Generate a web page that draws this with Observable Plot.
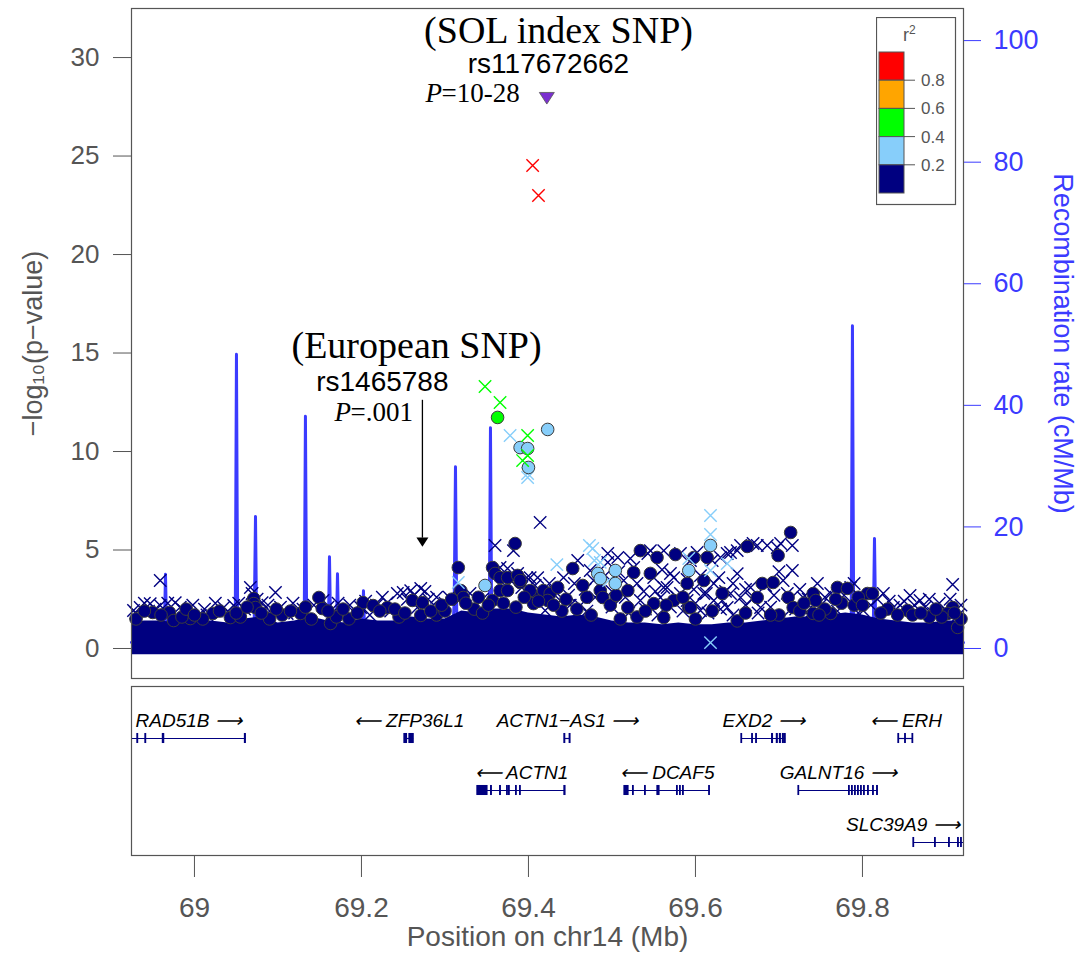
<!DOCTYPE html>
<html><head><meta charset="utf-8">
<script src="https://cdn.jsdelivr.net/npm/d3@7"></script>
<script src="https://cdn.jsdelivr.net/npm/@observablehq/plot@0.6"></script>
<style>
body{margin:0;background:#fff;}
#wrap{position:relative;width:1079px;height:953px;font-family:"Liberation Sans",Arial,sans-serif;}
#wrap svg{display:block;}
</style></head><body><div id="wrap"></div>
<script>
// ---------------- DATA ----------------
// r2 classes (legend)
const ldBreaks = [0.2, 0.4, 0.6, 0.8];
const ldColors = ["#000080", "#87CEFA", "#00FF00", "#FFA500", "#FF0000"];

// SNPs: [position (Mb), -log10(p)]
const navyCircles = [[68.950,1.83],[68.970,1.83],[68.975,1.42],[68.995,1.52],[69.022,1.78],[69.043,1.57],[69.071,2.54],[69.071,2.28],[69.073,2.08],[69.127,1.78],[69.149,2.59],[69.153,2.03],[69.163,1.27],[69.202,2.33],[69.214,2.18],[69.231,2.08],[69.261,2.44],[69.273,2.33],[69.271,1.68],[69.316,4.11],[69.319,2.94],[69.322,2.59],[69.357,2.44],[69.357,4.11],[69.360,3.81],[69.366,3.60],[69.375,3.60],[69.384,5.33],[69.387,3.71],[69.390,3.35],[69.366,2.94],[69.375,2.94],[69.405,2.69],[69.406,2.28],[69.418,2.94],[69.426,2.79],[69.435,3.10],[69.453,4.06],[69.465,3.20],[69.486,2.94],[69.519,2.94],[69.526,3.86],[69.534,4.97],[69.546,3.81],[69.554,4.62],[69.576,4.77],[69.598,4.62],[69.590,3.30],[69.610,3.45],[69.614,4.62],[69.662,5.18],[69.680,3.30],[69.693,3.35],[69.699,4.72],[69.714,5.89],[69.711,2.59],[69.717,2.08],[69.592,2.08],[69.562,1.57],[69.674,2.59],[69.741,2.79],[69.744,2.44],[69.770,3.10],[69.782,3.05],[69.806,2.79],[69.812,2.79],[69.762,1.78],[69.741,1.78],[69.854,1.93],[69.908,2.08],[69.902,1.78],[69.914,1.07],[69.550,2.28],[69.519,2.08],[69.489,2.59],[69.423,2.44],[69.390,3.45],[69.402,2.94],[69.574,2.44],[69.594,2.08],
  [68.930,1.5],[68.985,1.6],[69.010,1.5],[69.055,1.6],[69.090,1.5],[69.105,1.7],[69.140,1.5],[69.170,1.6],[69.185,1.5],[69.245,1.6],[69.290,1.7],[69.300,1.9],[69.335,2.0],[69.345,1.8],[69.440,1.9],[69.475,1.7],[69.510,1.5],[69.530,1.6],[69.600,1.5],[69.650,1.4],[69.700,1.7],[69.725,1.9],[69.755,2.0],[69.775,2.3],[69.790,2.2],[69.830,2.0],[69.860,1.7],[69.880,1.6],[69.895,1.6],[69.918,1.5],
  [68.940,1.9],[68.960,1.7],[68.990,2.0],[69.000,1.7],[69.030,1.9],[69.050,1.8],[69.063,2.1],[69.080,1.8],[69.098,2.0],[69.115,1.9],[69.133,2.1],[69.160,1.9],[69.178,2.0],[69.195,1.8],[69.222,1.9],[69.240,2.0],[69.252,1.8],[69.283,1.9],[69.296,2.2],[69.308,2.5],[69.325,2.3],[69.340,2.6],[69.352,2.2],[69.370,2.3],[69.385,2.1],[69.395,2.6],[69.412,2.4],[69.430,2.2],[69.445,2.5],[69.458,2.0],[69.470,2.6],[69.498,2.2],[69.505,2.7],[69.540,1.9],[69.565,2.2],[69.585,2.6],[69.620,1.9],[69.632,2.8],[69.660,1.8],[69.690,1.7],[69.730,2.3],[69.748,1.7],[69.768,2.5],[69.795,2.6],[69.800,2.2],[69.822,1.8],[69.842,1.7],[69.870,1.8],[69.888,2.0],[69.910,1.8]];
const navyCrosses = [[68.959,3.45],[68.927,1.93],[68.935,2.08],[68.947,2.28],[68.959,2.18],[68.977,2.33],[68.987,1.93],[69.007,1.68],[69.035,2.08],[69.047,2.18],[69.067,3.10],[69.069,2.79],[69.081,2.33],[69.097,2.84],[69.111,1.78],[69.154,2.44],[69.178,1.83],[69.199,2.08],[69.231,2.33],[69.250,2.84],[69.259,2.94],[69.271,3.05],[69.283,2.08],[69.267,2.08],[69.243,2.79],[69.360,5.23],[69.382,4.97],[69.414,6.40],[69.366,4.11],[69.375,4.06],[69.387,3.81],[69.402,3.60],
  [69.495,4.82],[69.507,4.62],[69.522,4.57],[69.543,4.82],[69.562,4.97],[69.582,4.82],[69.594,4.47],[69.630,4.62],[69.642,4.87],[69.654,5.23],[69.669,5.33],[69.686,5.23],[69.702,5.33],[69.716,5.23],[69.546,4.97],[69.602,4.87],[69.620,4.47],[69.638,4.82],[69.650,4.97],[69.674,5.23],[69.698,5.13],
  [69.716,3.96],[69.705,3.45],[69.908,3.25],[69.825,2.79],[69.857,2.69],[69.869,2.44],[69.837,2.08],[69.885,1.78],[69.786,3.10],[69.746,3.30],[69.762,2.79],[69.645,3.30],[69.666,3.10],[69.622,3.30],[69.570,3.81],[69.562,3.10],[69.582,2.79],[69.610,2.79],[69.632,2.44],[69.654,2.59],[69.678,2.08],[69.729,2.59],[69.738,2.08],[69.801,1.93],[69.495,4.37],[69.526,4.11],[69.514,3.45],[69.550,3.60],[69.566,3.10],[69.574,3.60],[69.558,2.59],[69.590,2.44],[69.622,2.44],[69.642,2.79],[69.638,2.08],[69.459,4.47],[69.474,3.96],[69.478,3.45],[69.442,3.60],[69.411,3.60],[69.492,3.71],[69.438,2.44],[69.420,1.93],[69.462,2.18],[69.534,2.44],[69.606,1.93],
  [69.450,2.2],[69.470,1.9],[69.500,2.1],[69.520,1.8],[69.540,2.0],[69.555,1.7],[69.570,2.1],[69.585,1.9],[69.600,2.3],[69.615,1.8],[69.630,2.0],[69.645,1.7],[69.660,2.2],[69.675,1.8],[69.690,2.1],[69.705,1.6],[69.720,2.0],[69.735,1.7],[69.750,2.2],[69.770,1.9],[69.795,1.8],[69.810,2.2],[69.845,2.2],[69.875,2.1],[69.900,1.9],[69.915,1.7],[68.930,1.8],[68.945,1.9],[68.990,1.8],[69.015,1.7],[69.060,2.0],[69.090,1.9],[69.120,1.8],[69.165,1.8],[69.190,1.9],[69.210,1.7],[69.235,1.9],[69.280,2.5],[69.290,2.6],[69.300,2.3],
  [68.940,2.3],[68.953,2.0],[68.968,2.3],[68.983,2.1],[68.998,2.2],[69.012,2.0],[69.025,2.3],[69.040,1.9],[69.053,2.3],[69.075,2.5],[69.088,2.2],[69.103,2.1],[69.118,2.3],[69.130,2.0],[69.143,2.2],[69.160,2.1],[69.172,2.3],[69.186,2.2],[69.205,2.4],[69.218,2.2],[69.225,2.6],[69.255,2.5],[69.263,2.7],[69.276,2.9],[69.305,2.6],[69.318,2.5],[69.330,2.8],[69.345,2.5],[69.372,3.2],[69.380,3.4],[69.392,3.1],[69.398,3.6],[69.408,3.2],[69.425,3.3],[69.432,2.9],[69.448,2.7],[69.455,3.3],[69.468,3.0],[69.480,2.6],[69.486,3.3],[69.500,2.9],[69.508,3.9],[69.516,2.6],[69.530,3.3],[69.538,2.9],[69.552,2.9],[69.560,4.0],[69.578,2.6],[69.590,3.5],[69.598,3.0],[69.606,3.7],[69.613,2.8],[69.628,3.6],[69.636,2.9],[69.650,3.8],[69.660,3.0],[69.668,2.5],[69.684,3.2],[69.694,2.7],[69.700,3.9],[69.710,2.8],[69.725,3.0],[69.735,2.5],[69.755,2.6],[69.778,2.7],[69.790,3.3],[69.818,2.5],[69.832,2.4],[69.850,2.4],[69.862,2.2],[69.880,2.5],[69.892,2.3],[69.905,2.5],[69.918,2.2]];
const lightBlueCrosses = [[69.378,10.81],[69.399,8.68],[69.399,8.88],[69.434,4.26],[69.473,5.23],[69.477,5.08],[69.479,4.47],[69.618,6.75],[69.618,5.79],[69.618,0.30],[69.316,3.35],[69.592,4.57],[69.618,3.96],[69.638,4.31],[69.486,4.37],[69.496,3.45]];
const lightBlueCircles = [[69.423,11.12],[69.390,10.20],[69.399,10.15],[69.400,9.19],[69.348,3.20],[69.483,3.81],[69.486,3.55],[69.504,3.96],[69.504,3.30],[69.592,3.96],[69.618,5.23]];
const greenCrosses = [[69.348,13.30],[69.366,12.49],[69.399,10.81],[69.393,9.54],[69.399,9.80]];
const greenCircles = [[69.363,11.73]];
const redCrosses = [[69.405,24.52],[69.412,23.00]];
const indexSnp = [[69.422,28.0]];

// dense low-significance mass: position and upper edge (-log10 p)
const floorPos = [68.9246,68.94,68.96,68.98,69.00,69.02,69.04,69.06,69.08,69.10,69.12,69.14,69.16,69.18,69.20,69.22,69.24,69.26,69.28,69.30,69.32,69.34,69.36,69.38,69.40,69.42,69.44,69.46,69.48,69.50,69.52,69.54,69.56,69.58,69.60,69.62,69.64,69.66,69.68,69.70,69.72,69.74,69.76,69.78,69.80,69.82,69.84,69.86,69.88,69.90,69.921];
const floorTop = [1.3,1.4,1.4,1.3,1.4,1.4,1.3,1.5,1.6,1.3,1.4,1.6,1.4,1.3,1.5,1.4,1.4,1.6,1.5,1.5,1.9,1.8,2.0,2.0,1.8,1.7,1.6,1.7,1.6,1.4,1.3,1.3,1.2,1.3,1.2,1.2,1.3,1.3,1.4,1.5,1.6,1.6,1.7,1.8,1.7,1.5,1.4,1.3,1.3,1.4,1.4];

// recombination rate (cM/Mb)
const recPos = [68.9246,68.940,68.955,68.9638,68.9653,68.9668,68.990,69.020,69.0488,69.0503,69.0518,69.070,69.0716,69.0731,69.0746,69.100,69.1314,69.1329,69.1344,69.150,69.1602,69.1617,69.1632,69.1698,69.1713,69.1728,69.2009,69.2024,69.2039,69.250,69.300,69.3096,69.3111,69.3126,69.3141,69.330,69.3530,69.3545,69.3560,69.400,69.500,69.600,69.700,69.7865,69.7880,69.7895,69.8129,69.8144,69.8159,69.850,69.921];
const recRate = [1.0,2.0,1.5,2.0,12.2,2.0,1.0,2.0,2.5,48.4,3.0,2.0,5.0,21.7,2.0,1.5,3.0,38.2,3.0,2.0,2.0,15.1,2.0,2.0,12.3,2.0,2.0,9.5,2.0,1.0,2.0,3.0,8.0,29.9,6.0,3.0,3.0,36.3,3.0,2.0,1.5,2.0,1.5,4.0,53.1,4.0,3.0,18.1,3.0,1.0,1.0];

// axis ticks
const pTicks = [0,5,10,15,20,25,30];
const recTicks = [0,20,40,60,80,100];
const posTicks = [69,69.2,69.4,69.6,69.8];

// genes
const geneNames  = ["RAD51B","ZFP36L1","ACTN1\u2212AS1","EXD2","ERH","ACTN1","DCAF5","GALNT16","SLC39A9"];
const geneStart  = [68.9200,69.2515,69.4431,69.6551,69.8431,69.3389,69.5150,69.7234,69.8611];
const geneEnd    = [69.0615,69.2625,69.4503,69.7080,69.8607,69.4443,69.6172,69.8184,69.9350];
const geneStrand = ["+","-","+","+","-","-","-","+","+"];
const geneRow    = [1,1,1,1,1,2,2,2,3];
const geneExons  = [
  [[68.9317,68.9325],[68.9413,68.9421],[68.9622,68.9637],[69.0605,69.0615]],
  [[69.2515,69.2545],[69.2575,69.2625]],
  [[69.4431,69.4440],[69.4494,69.4503]],
  [[69.6551,69.6558],[69.6680,69.6687],[69.6728,69.6735],[69.6918,69.6928],[69.6975,69.6985],[69.7012,69.7022],[69.7048,69.7058],[69.7070,69.7080]],
  [[69.8431,69.8438],[69.8512,69.8519],[69.8600,69.8607]],
  [[69.3389,69.3509],[69.3553,69.3561],[69.3661,69.3669],[69.3745,69.3752],[69.3768,69.3775],[69.3852,69.3859],[69.3900,69.3907],[69.4431,69.4443]],
  [[69.5150,69.5198],[69.5253,69.5260],[69.5397,69.5404],[69.5545,69.5569],[69.5780,69.5787],[69.5816,69.5823],[69.5852,69.5859],[69.6165,69.6172]],
  [[69.7234,69.7241],[69.7840,69.7847],[69.7876,69.7883],[69.7912,69.7919],[69.7948,69.7955],[69.7984,69.7991],[69.8020,69.8027],[69.8068,69.8075],[69.8128,69.8135],[69.8176,69.8184]],
  [[69.8611,69.8618],[69.8870,69.8877],[69.9038,69.9045],[69.9146,69.9153],[69.9182,69.9189]]
];

// ---------------- CHART ----------------
const NAVY = ldColors[0], LBLUE = ldColors[1], GREEN = ldColors[2], RED = ldColors[4];
const RECBLUE = "#3b3bff", GRAY = "#555555";
const SANS = "'Liberation Sans', Arial, sans-serif";
const SERIF = "'Liberation Serif', 'DejaVu Serif', serif";
const X_DOMAIN = [68.9246, 69.921];
const Y_DOMAIN = [-1.523, 32.49];
const K = 0.3086; // cM/Mb -> -log10(p) units for the secondary axis

const pts = a => a.map(([x, y]) => ({x, y}));
const recData = recPos.map((x, i) => ({x, y: recRate[i] * K}));
const floorData = floorPos.map((x, i) => ({x, y: floorTop[i]}));

const triDown = {draw(ctx, size) {
  const r = Math.sqrt(size / Math.PI);
  ctx.moveTo(-r, -r * 0.6); ctx.lineTo(r, -r * 0.6); ctx.lineTo(0, r * 0.95); ctx.closePath();
}};

const circ = (data, fill) => Plot.dot(pts(data), {x: "x", y: "y", r: 6.3, fill, stroke: "#3c3c3c", strokeWidth: 1});
const cross = (data, stroke) => Plot.dot(pts(data), {x: "x", y: "y", symbol: "times", r: 5.7, stroke, strokeWidth: 1.4});

const main = Plot.plot({
  width: 1079, height: 682,
  marginLeft: 131, marginRight: 116, marginTop: 8, marginBottom: 4,
  x: {domain: X_DOMAIN, axis: null},
  y: {domain: Y_DOMAIN},
  style: {fontFamily: SANS, background: "white", color: GRAY},
  marks: [
    Plot.line(recData, {x: "x", y: "y", stroke: RECBLUE, strokeWidth: 3}),
    Plot.areaY(floorData, {x: "x", y1: -0.32, y2: "y", fill: NAVY}),
    cross(navyCrosses, NAVY),
    circ(navyCircles, NAVY),
    cross(lightBlueCrosses, LBLUE),
    circ(lightBlueCircles, LBLUE),
    cross(greenCrosses, GREEN),
    circ(greenCircles, GREEN),
    cross(redCrosses, RED),
    Plot.dot(pts(indexSnp), {x: "x", y: "y", symbol: triDown, r: 7.5, fill: "#7b2fd0", stroke: "#555", strokeWidth: 0.8}),
    // annotations
    Plot.text(["(SOL index SNP)"], {x: 69.436, y: 31.35, text: d => d, fontFamily: SERIF, fontSize: 38, fill: "#000"}),
    Plot.text(["rs117672662"], {x: 69.424, y: 29.65, text: d => d, fontFamily: SANS, fontSize: 28, fill: "#000"}),
    Plot.text(["P"], {x: 69.2766, y: 28.2, text: d => d, textAnchor: "start", fontFamily: SERIF, fontStyle: "italic", fontSize: 27, fill: "#000"}),
    Plot.text(["=10-28"], {x: 69.2766, y: 28.2, dx: 16, text: d => d, textAnchor: "start", fontFamily: SERIF, fontSize: 27, fill: "#000"}),
    Plot.text(["(European SNP)"], {x: 69.266, y: 15.35, text: d => d, fontFamily: SERIF, fontSize: 38, fill: "#000"}),
    Plot.text(["rs1465788"], {x: 69.225, y: 13.55, text: d => d, fontFamily: SANS, fontSize: 28, fill: "#000"}),
    Plot.text(["P"], {x: 69.1677, y: 11.98, text: d => d, textAnchor: "start", fontFamily: SERIF, fontStyle: "italic", fontSize: 27, fill: "#000"}),
    Plot.text(["=.001"], {x: 69.1677, y: 11.98, dx: 16, text: d => d, textAnchor: "start", fontFamily: SERIF, fontSize: 27, fill: "#000"}),
    Plot.ruleX([69.273], {y1: 12.6, y2: 5.6, stroke: "#000", strokeWidth: 1.3}),
    Plot.dot([{x: 69.273, y: 5.45}], {x: "x", y: "y", symbol: triDown, r: 6, fill: "#000"}),
    Plot.frame({stroke: GRAY, strokeWidth: 1.2}),
    Plot.axisY(pTicks, {anchor: "left", tickSize: 18, tickPadding: 14, fontSize: 26, color: GRAY, label: null}),
    Plot.axisY(recTicks.map(r => r * K), {anchor: "right", tickSize: 17, tickPadding: 13, fontSize: 27, color: RECBLUE, label: null, tickFormat: d => String(Math.round(d / K))}),
    Plot.text(["\u2212log\u2081\u2080(p\u2212value)"], {frameAnchor: "left", dx: -98, rotate: -90, textAnchor: "middle", lineAnchor: "middle", text: d => d, fontSize: 27, fill: GRAY}),
    Plot.text(["Recombination rate (cM/Mb)"], {frameAnchor: "right", dx: 99, rotate: 90, textAnchor: "middle", lineAnchor: "middle", text: d => d, fontSize: 27, fill: RECBLUE})
  ]
});

// gene panel
const CHAR_W = 19 * 0.7 / 835; // approx label width per char in Mb
const genes = geneNames.map((name, i) => {
  const label = geneStrand[i] === "+" ? `${name} \u27F6` : `\u27F5 ${name}`;
  const lo = Math.max(geneStart[i], X_DOMAIN[0]), hi = Math.min(geneEnd[i], X_DOMAIN[1]);
  const half = label.length * CHAR_W / 2;
  let lx = (lo + hi) / 2;
  lx = Math.min(Math.max(lx, X_DOMAIN[0] + half + 0.004), X_DOMAIN[1] - half - 0.001);
  return {name, label, start: geneStart[i], end: geneEnd[i], row: geneRow[i], lx};
});
const exons = geneExons.flatMap((ex, i) => ex.map(([s, e]) => ({start: s, end: e, row: geneRow[i]})));

const genePlot = Plot.plot({
  width: 1079, height: 271,
  marginLeft: 131, marginRight: 116, marginTop: 4, marginBottom: 98,
  x: {domain: X_DOMAIN},
  y: {domain: [0, 3.25], range: [4, 173], axis: null},
  style: {fontFamily: SANS, background: "white", color: GRAY},
  marks: [
    Plot.ruleY(genes, {x1: "start", x2: "end", y: "row", stroke: NAVY, strokeWidth: 1.2, clip: true}),
    Plot.rect(exons, {x1: "start", x2: "end", y1: d => d.row - 0.085, y2: d => d.row + 0.085, fill: NAVY, stroke: NAVY, strokeWidth: 1.2, clip: true}),
    Plot.text(genes, {x: "lx", y: d => d.row - 0.33, text: "label", fontStyle: "italic", fontSize: 19, fill: "#000"}),
    Plot.frame({stroke: GRAY, strokeWidth: 1.2}),
    Plot.axisX(posTicks, {anchor: "bottom", tickSize: 22, tickPadding: 20, fontSize: 28, color: GRAY, label: null, tickFormat: d => d3.format("~g")(d)}),
    Plot.text(["Position on chr14 (Mb)"], {frameAnchor: "bottom", dy: 90, lineAnchor: "bottom", text: d => d, fontSize: 28, fill: GRAY})
  ]
});

const wrap = document.getElementById("wrap");
wrap.appendChild(main);
wrap.appendChild(genePlot);

// r2 legend (inside the plot frame, top right)
const lg = d3.create("svg").attr("width", 82).attr("height", 190)
  .style("position", "absolute").style("left", "876px").style("top", "17px")
  .style("font-family", SANS);
lg.append("rect").attr("x", 0.5).attr("y", 0.5).attr("width", 79).attr("height", 187)
  .attr("fill", "white").attr("stroke", GRAY).attr("stroke-width", 1.2);
const t = lg.append("text").attr("x", 27).attr("y", 24).attr("fill", GRAY).attr("font-size", 18);
t.append("tspan").text("r");
t.append("tspan").attr("dy", -7).attr("font-size", 12).text("2");
const bTop = 35, bH = 28.2;
const order = ldColors.slice().reverse(); // top: red ... bottom: navy
order.forEach((c, i) => {
  lg.append("rect").attr("x", 3).attr("y", bTop + i * bH).attr("width", 25).attr("height", bH)
    .attr("fill", c).attr("stroke", GRAY).attr("stroke-width", 1);
});
ldBreaks.slice().reverse().forEach((b, i) => {
  const y = bTop + (i + 1) * bH;
  lg.append("line").attr("x1", 28).attr("x2", 39).attr("y1", y).attr("y2", y).attr("stroke", GRAY);
  lg.append("text").attr("x", 45).attr("y", y).attr("dy", "0.35em").attr("fill", GRAY)
    .attr("font-size", 17).text(String(b));
});
wrap.appendChild(lg.node());
</script></body></html>
